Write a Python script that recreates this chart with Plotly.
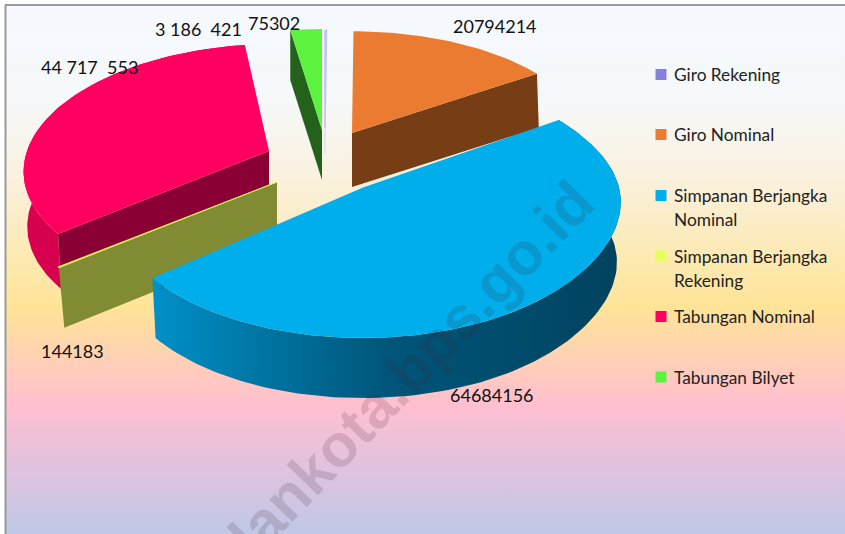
import math
import plotly.graph_objects as go

categories = ["Giro Rekening", "Giro Nominal", "Simpanan Berjangka Nominal",
              "Simpanan Berjangka Rekening", "Tabungan Nominal", "Tabungan Bilyet"]
values = [150000, 20794214, 64684156, 144183, 44717553, 3186421]
label_texts = ["20794214", "64684156", "144183", "44 717  553", "3 186  421", "75302"]

top_colors = ["#C6C6EA", "#EA7B31", "#00AEEC", "#E5FF5C", "#FF0061", "#5CF33F"]
wall_colors = ["#DEDEF0", "#773D15", "#0090C8", "#808B33", "#8B0034", "#24611B"]
legend_colors = ["#8680DE", "#EA7B31", "#00AEEC", "#E5FF5C", "#FF0061", "#5CF33F"]

# per-slice projection: apex x, apex y, radius a, radius b, shear, wall depth, wall scale, right bulge
K = 0.13
proj = {
    0: (325, 128, 240, 110, 0, 26, 1.0, 0),
    1: (352, 133, 238, 115, 0, 54, 1.01, 0),
    2: (363, 187.5, 250, 131, 0, 60, 0.985, 6),
    3: (277, 182, 259, 124, 0, 60, 0.975, 0),
    4: (269, 151, 242, 121, 9, 55, 0.985, 0),
    5: (322, 130, 240, 114, 0, 50, 1.0, 0),
}

total = sum(values)
angles = [0]
for v in values:
    angles.append(angles[-1] + v / total * 360)


def pt(i, deg, lower=False):
    cx, cy, a, b, e, d, s, g = proj[i]
    t = math.radians(deg)
    den = 1 + K * math.cos(t)
    x = (a * math.sin(t) + e * math.cos(t)) / den + g * max(0.0, math.sin(t)) ** 8
    y = -b * math.cos(t) / den
    if lower:
        return cx + s * x, cy + y + d
    return cx + x, cy + y


def apex(i, lower=False):
    cx, cy, a, b, e, d, s, g = proj[i]
    return (cx, cy + d) if lower else (cx, cy)


def arc(i, a0, a1, lower=False):
    n = max(2, int(abs(a1 - a0) / 1.5) + 2)
    return [pt(i, a0 + (a1 - a0) * j / (n - 1), lower) for j in range(n)]


fig = go.Figure()


def poly(points, color=None, gradient=None, lw=0, lc=None):
    xs = [p[0] for p in points] + [points[0][0]]
    ys = [p[1] for p in points] + [points[0][1]]
    kw = dict(fill="toself", mode="lines", showlegend=False, hoverinfo="skip",
              line=dict(width=lw, color=lc or color or "rgba(0,0,0,0)"))
    if gradient:
        kw["fillgradient"] = gradient
    else:
        kw["fillcolor"] = color
    fig.add_trace(go.Scatter(x=xs, y=ys, **kw))


def top_face(i):
    poly([apex(i)] + arc(i, angles[i], angles[i + 1]), top_colors[i])


def radial_wall(i, deg):
    poly([apex(i), pt(i, deg), pt(i, deg, True), apex(i, True)], wall_colors[i])


# background panel
poly([(6, 6), (845, 6), (845, 534), (6, 534)], gradient=dict(
    type="vertical", start=6, stop=534,
    colorscale=[[0, "#F5F9FE"], [0.18, "#F6F8FA"], [0.33, "#FAF1DD"], [0.57, "#FFE497"],
                [0.755, "#FFBFD0"], [0.88, "#DFC3DF"], [1, "#BEC8E6"]]))

# green slice
radial_wall(5, angles[5])
top_face(5)
# giro rekening sliver
fig.add_trace(go.Scatter(x=[apex(0)[0], apex(0, True)[0]], y=[apex(0)[1], apex(0, True)[1]],
                         mode="lines", line=dict(color=wall_colors[0], width=1.5),
                         showlegend=False, hoverinfo="skip"))
poly([apex(0)] + arc(0, angles[0], angles[1]), top_colors[0], lw=1.6, lc=top_colors[0])
# orange slice
radial_wall(1, angles[2])
top_face(1)
# pink slice
poly(arc(4, angles[4], angles[5]) + arc(4, angles[5], angles[4], True), "#D6004F")
radial_wall(4, angles[4])
top_face(4)
# olive / yellow wedge
radial_wall(3, angles[3])
poly([apex(3)] + arc(3, angles[3], angles[4]), top_colors[3], lw=0.8, lc=top_colors[3])
# blue slice
poly(arc(2, angles[2], angles[3]) + arc(2, angles[3], angles[2], True),
     gradient=dict(type="horizontal", start=153, stop=620,
                   colorscale=[[0, "#0090C8"], [0.5, "#00567A"], [1, "#00435F"]]))
top_face(2)

# legend: swatch on the first text line, second lines set 24 px below
legend_rows = [74.5, 134.5, 195.5, 256, 316.5, 377]
annotations = []
for name, col, row in zip(categories, legend_colors, legend_rows):
    fig.add_trace(go.Scatter(x=[661], y=[row], mode="markers", name=name, showlegend=False,
                             marker=dict(symbol="square", size=11, color=col)))
    words = name.split(" ")
    lines = [" ".join(words[:2]), words[2]] if len(words) == 3 else [name]
    for j, line in enumerate(lines):
        annotations.append(dict(x=671.5, y=row + 24 * j, xref="x", yref="y", xanchor="left", text=line,
                                showarrow=False, font=dict(family="Lato", size=17.3, color="#222222")))

label_pos = [(495, 26), (492, 395), (72, 351), (89, 67), (198, 29), (274, 23)]
annotations += [dict(x=p[0], y=p[1], xref="x", yref="y", text=t.replace(" ", "\u00a0"),
                     showarrow=False, font=dict(family="Lato", size=18, color="#111111"))
                for t, p in zip(label_texts, label_pos)]
annotations.append(dict(x=374, y=407, xref="x", yref="y", text="<b>medankota.bps.go.id</b>",
                        textangle=-46, showarrow=False,
                        font=dict(family="Liberation Sans", size=60, color="rgba(60,30,50,0.16)")))

fig.update_layout(
    width=845, height=534, margin=dict(l=0, r=0, t=0, b=0),
    paper_bgcolor="white", plot_bgcolor="white",
    xaxis=dict(range=[0, 845], visible=False, fixedrange=True),
    yaxis=dict(range=[534, 0], visible=False, fixedrange=True),
    annotations=annotations,
    shapes=[dict(type="line", x0=5.5, x1=5.5, y0=5, y1=534, xref="x", yref="y",
                 line=dict(color="#9A9A9A", width=2)),
            dict(type="line", x0=5, x1=845, y0=5, y1=5, xref="x", yref="y",
                 line=dict(color="#9A9A9A", width=2))],
)
fig.write_html("out.html", post_script="document.body.style.margin='0';",
               config={"displayModeBar": False})
